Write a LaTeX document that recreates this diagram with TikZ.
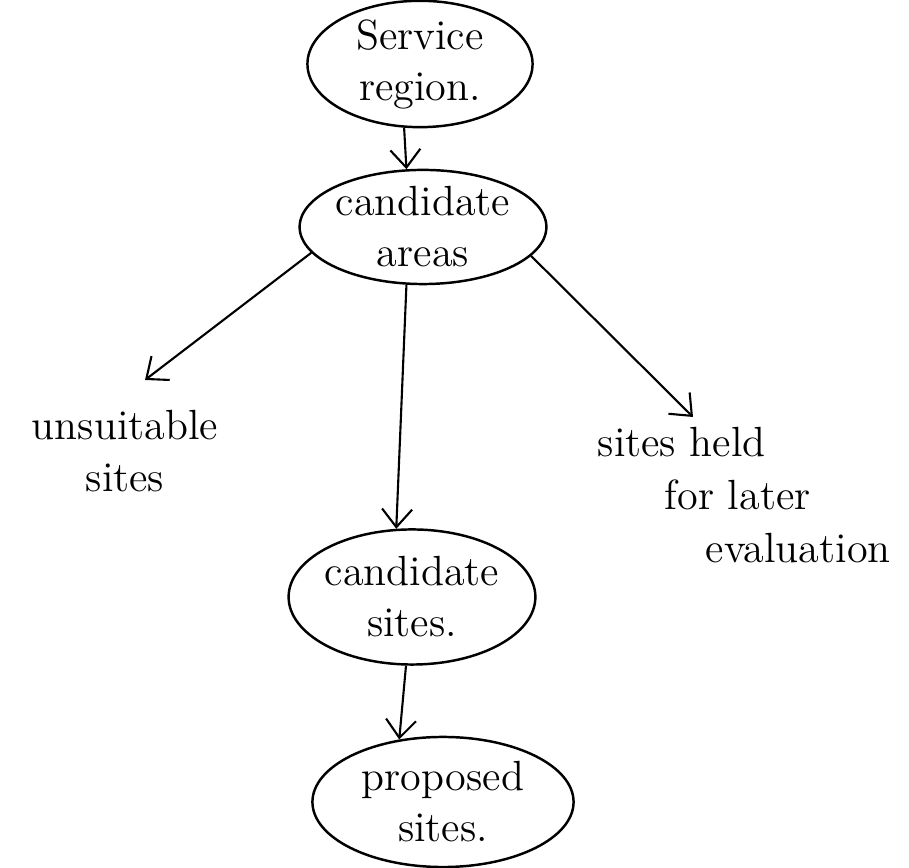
\documentclass[tikz,border=0pt]{standalone}
\usepackage{tikz}
\usetikzlibrary{shapes.geometric,arrows.meta}

\begin{document}
\begin{tikzpicture}[x=0.01cm,y=-0.01cm,
    blob/.style={ellipse,draw,line width=0.7pt,inner sep=0pt,align=center,font=\fontsize{12}{14.5}\selectfont},
    note/.style={inner sep=0pt,font=\fontsize{12}{15}\selectfont},
    arr/.style={-{Straight Barb[length=1.8mm,width=3mm]},line width=0.6pt}]

\useasboundingbox (0,0) rectangle (909,868);

% Stages down the middle
\node[blob,minimum width=2.25cm,minimum height=1.02cm] (sr) at (420,64) {Service\\region.};
\node[blob,minimum width=2.30cm,minimum height=1.13cm] (ca) at (423,227) {candidate\\areas};
\node[blob,minimum width=2.19cm,minimum height=1.35cm] (cs) at (412,597) {candidate\\sites.};
\node[blob,minimum width=2.61cm,minimum height=1.30cm] (ps) at (443,802) {proposed\\sites.};

% Side outcomes
\node[note,align=center] (us) at (125,451) {unsuitable\\sites};
\node[note,align=left,anchor=west] (sh) at (597,495) {sites held\\\hspace{0.67cm}for later\\\hspace{1.08cm}evaluation};
\coordinate (usend) at (145,380);
\coordinate (shend) at (693,417);

% Arrows
\draw[arr] (sr.256) -- (ca.106);
\draw[arr] (ca.193) -- (usend);
\draw[arr] (ca.254) -- (cs.103);
\draw[arr] (ca.345) -- (shend);
\draw[arr] (cs.265) -- (ps.125);

\end{tikzpicture}
\end{document}
